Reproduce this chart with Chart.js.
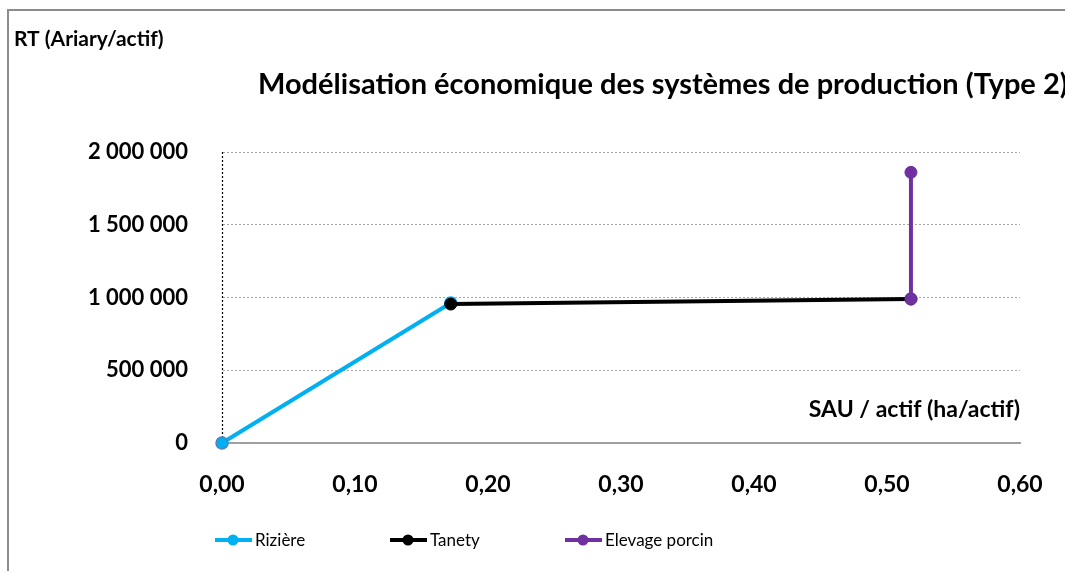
<!DOCTYPE html>
<html>
<head>
<meta charset="utf-8">
<script src="https://cdn.jsdelivr.net/npm/chart.js@4.4.1/dist/chart.umd.min.js"></script>
<style>
  html, body { margin: 0; padding: 0; background: #fff; }
  #wrap { width: 1065px; height: 571px; position: relative; }
</style>
</head>
<body>
<div id="wrap"><canvas id="c" width="1065" height="571"></canvas></div>
<script>
// data
const seriesNames = ['Rizière', 'Tanety', 'Elevage porcin'];
const seriesColors = ['#00B0F0', '#000000', '#7030A0'];

const rizX = [0, 0.172];
const rizY = [0, 962000];
const tanetyX = [0.172, 0.518];
const tanetyY = [955000, 990000];
const elevX = [0.518, 0.518];
const elevY = [990000, 1860000];

const xTicks = [0, 0.1, 0.2, 0.3, 0.4, 0.5, 0.6];
const yTicks = [0, 500000, 1000000, 1500000, 2000000];

const titleText = 'Modélisation économique des systèmes de production (Type 2)';
const yTitle = 'RT (Ariary/actif)';
const xTitle = 'SAU / actif (ha/actif)';

const FONT = 'Lato, "Open Sans", sans-serif';

const pts = (xs, ys) => xs.map((x, i) => ({ x, y: ys[i] }));

function fmtY(v) {
  return String(Math.round(v)).replace(/\B(?=(\d{3})+(?!\d))/g, ' ');
}
function fmtX(v) {
  return v.toFixed(2).replace('.', ',');
}

// frame, dotted y axis, titles and legend drawn on the canvas
const decor = {
  id: 'decor',
  beforeDatasetsDraw(chart) {
    const ctx = chart.ctx;
    const a = chart.chartArea;
    ctx.save();
    ctx.strokeStyle = '#000';
    ctx.lineWidth = 1.2;
    ctx.setLineDash([2, 2]);
    ctx.beginPath();
    ctx.moveTo(a.left + 0.5, a.top);
    ctx.lineTo(a.left + 0.5, a.bottom);
    ctx.stroke();
    ctx.restore();
  },
  afterDraw(chart) {
    const ctx = chart.ctx;
    ctx.save();
    // outer frame (top + left visible)
    ctx.strokeStyle = '#8c8c8c';
    ctx.lineWidth = 2;
    ctx.beginPath();
    ctx.moveTo(1066, 10);
    ctx.lineTo(8, 10);
    ctx.lineTo(8, 572);
    ctx.stroke();

    ctx.fillStyle = '#000';
    ctx.textBaseline = 'middle';
    // y title
    ctx.font = 'bold 21px ' + FONT;
    ctx.textAlign = 'left';
    ctx.fillText(yTitle, 14, 39);
    // main title
    ctx.font = 'bold 29px ' + FONT;
    ctx.fillText(titleText, 258, 85);
    // x title inside plot
    ctx.font = 'bold 23px ' + FONT;
    ctx.textAlign = 'right';
    ctx.fillText(xTitle, chart.chartArea.right, 410);

    // legend
    const lx = [215, 390, 565];
    ctx.font = '17px ' + FONT;
    ctx.textAlign = 'left';
    seriesNames.forEach((name, i) => {
      const y = 540;
      ctx.strokeStyle = seriesColors[i];
      ctx.lineWidth = 4;
      ctx.beginPath();
      ctx.moveTo(lx[i], y);
      ctx.lineTo(lx[i] + 37, y);
      ctx.stroke();
      ctx.fillStyle = seriesColors[i];
      ctx.beginPath();
      ctx.arc(lx[i] + 18, y, 5.5, 0, Math.PI * 2);
      ctx.fill();
      ctx.fillStyle = '#000';
      ctx.fillText(name, lx[i] + 40, y + 1);
    });
    ctx.restore();
  }
};

const lineDs = (label, data, color, order, extra) => Object.assign({
  label,
  data,
  showLine: true,
  borderColor: color,
  backgroundColor: color,
  borderWidth: 4,
  pointRadius: 6,
  pointBorderWidth: 1,
  pointBorderColor: color,
  pointBackgroundColor: color,
  clip: false,
  order
}, extra || {});

new Chart(document.getElementById('c'), {
  type: 'scatter',
  data: {
    datasets: [
      lineDs(seriesNames[0], pts(rizX, rizY), seriesColors[0], 3, { pointBorderColor: ['#4f81bd', '#00B0F0'], pointBorderWidth: 1.5 }),
      lineDs(seriesNames[1], pts(tanetyX, tanetyY), seriesColors[1], 2),
      lineDs(seriesNames[2], pts(elevX, elevY), seriesColors[2], 1)
    ]
  },
  options: {
    responsive: false,
    animation: false,
    devicePixelRatio: 1,
    layout: { padding: { left: 0, top: 152, right: 45, bottom: 0 } },
    plugins: {
      legend: { display: false },
      tooltip: { enabled: false },
      title: { display: false }
    },
    scales: {
      x: {
        type: 'linear',
        min: 0,
        max: 0.6,
        afterBuildTicks: (s) => { s.ticks = xTicks.map(v => ({ value: v })); },
        afterFit: (s) => { s.height = 128; s.paddingLeft = 0; s.paddingRight = 0; },
        grid: { display: true, color: 'rgba(0,0,0,0)', drawTicks: false },
        border: { display: true, color: '#a0a0a0', width: 2 },
        ticks: {
          padding: 28,
          maxRotation: 0,
          color: '#000',
          font: { family: FONT, size: 23, weight: 'bold' },
          callback: (v) => fmtX(v)
        }
      },
      y: {
        type: 'linear',
        min: 0,
        max: 2000000,
        afterBuildTicks: (s) => { s.ticks = yTicks.map(v => ({ value: v })); },
        afterFit: (s) => { s.width = 222; s.paddingTop = 0; s.paddingBottom = 0; },
        grid: { color: '#a6a6a6', lineWidth: 1, drawTicks: false },
        border: { display: true, color: 'rgba(0,0,0,0)', width: 1, dash: [2, 2] },
        ticks: {
          padding: 34,
          color: '#000',
          font: { family: FONT, size: 22, weight: 'bold' },
          callback: (v) => fmtY(v)
        }
      }
    }
  },
  plugins: [decor]
});
</script>
</body>
</html>
